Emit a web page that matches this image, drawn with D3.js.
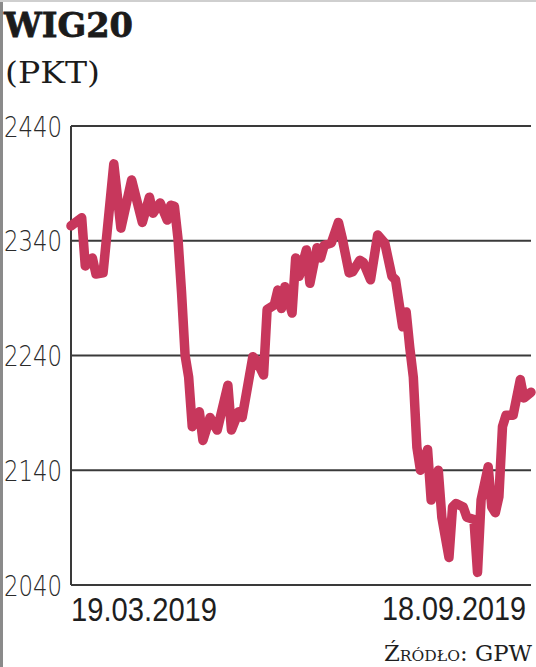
<!DOCTYPE html>
<html>
<head>
<meta charset="utf-8">
<script src="https://cdn.jsdelivr.net/npm/d3@7"></script>
<style>
  html, body { margin: 0; padding: 0; background: #fff; }
  svg { display: block; }
</style>
</head>
<body>
<script>
// ---- data ----
const title = "WIG20";
const unit = "(PKT)";
const source = "Źródło: GPW";
const startLabel = "19.03.2019";
const endLabel = "18.09.2019";
const yTicks = [2040, 2140, 2240, 2340, 2440];
const tradingDays = 129; // last trading-day index
// trading-day index of each point
const days = [0, 3, 4, 6, 7, 9, 12, 14, 17, 20, 22, 23, 25, 27, 28, 29, 30, 31, 32, 33,
  34, 36, 37, 39, 41, 44, 45, 47, 48, 51, 52, 54, 55, 57, 58, 59, 60, 62, 63, 64,
  66, 67, 69, 70, 71, 73, 75, 76, 78, 79, 81, 82, 84, 86, 88, 90, 91, 93, 94, 95,
  96, 97, 98, 100, 101, 103, 104, 106, 107, 108, 110, 111, 113, 114, 115, 117, 118, 119, 120, 121,
  122, 124, 126, 127, 129];
// WIG20 close values
const values = [2353, 2360, 2318, 2325, 2311, 2312, 2407, 2351, 2393, 2356, 2378, 2364, 2373, 2358, 2371, 2370, 2342, 2295, 2240, 2221,
  2178, 2191, 2166, 2186, 2175, 2214, 2175, 2191, 2186, 2239, 2236, 2223, 2280, 2284, 2297, 2281, 2300, 2277, 2325, 2309,
  2332, 2303, 2334, 2325, 2336, 2338, 2356, 2343, 2312, 2313, 2323, 2321, 2306, 2345, 2338, 2309, 2306, 2265, 2278, 2247,
  2221, 2160, 2140, 2158, 2114, 2140, 2099, 2064, 2108, 2111, 2108, 2099, 2097, 2051, 2114, 2143, 2108, 2103, 2117, 2178,
  2188, 2188, 2219, 2203, 2208];

const W = 536, H = 667;
const svg = d3.select("body").append("svg").attr("width", W).attr("height", H);

// frame edges
svg.append("line").attr("x1", 1.5).attr("x2", 1.5).attr("y1", 0).attr("y2", H)
  .attr("stroke", "#8a8a8a").attr("stroke-width", 3);
svg.append("line").attr("x1", 0).attr("x2", W).attr("y1", 1).attr("y2", 1)
  .attr("stroke", "#cfcfcf").attr("stroke-width", 2);

// titles
svg.append("text").attr("x", 4).attr("y", 37).text(title)
  .attr("font-family", "DejaVu Serif").attr("font-weight", "bold").attr("font-size", 34)
  .attr("fill", "#1b1b1b").attr("stroke", "#1b1b1b").attr("stroke-width", 0.8)
  .attr("textLength", 129).attr("lengthAdjust", "spacingAndGlyphs");
svg.append("text").attr("x", 5).attr("y", 83).text(unit)
  .attr("font-family", "DejaVu Serif").attr("font-size", 30)
  .attr("fill", "#1b1b1b").attr("textLength", 95).attr("lengthAdjust", "spacingAndGlyphs");

// scales
const x = d3.scaleLinear().domain([0, tradingDays]).range([71, 531]);
const y = d3.scaleLinear().domain([2040, 2440]).range([585, 126]);

// grid lines
svg.append("g").selectAll("line").data(yTicks).join("line")
  .attr("x1", 71).attr("x2", 531)
  .attr("y1", d => y(d)).attr("y2", d => y(d))
  .attr("stroke", "#3a3a3a").attr("stroke-width", 2);
// left axis line
svg.append("line").attr("x1", 71).attr("x2", 71).attr("y1", y(2440)).attr("y2", y(2040))
  .attr("stroke", "#3a3a3a").attr("stroke-width", 2);

// y tick labels
svg.append("g").selectAll("text").data(yTicks).join("text")
  .attr("x", 4).attr("y", d => y(d) + 10.5)
  .attr("font-family", "DejaVu Sans").attr("font-weight", 200).attr("font-size", 29)
  .attr("fill", "#2a2a2a").attr("textLength", 58).attr("lengthAdjust", "spacingAndGlyphs")
  .text(d => d);

// line
const pts = days.map((d, i) => [d, values[i]]);
svg.append("path").datum(pts)
  .attr("fill", "none").attr("stroke", "#c7375c").attr("stroke-width", 9.5)
  .attr("stroke-linejoin", "round").attr("stroke-linecap", "round")
  .attr("d", d3.line().x(d => x(d[0])).y(d => y(d[1])));

// x labels (narrow font, stretched vertically to look condensed)
svg.append("text").attr("transform", "translate(71,621) scale(1,1.16)").text(startLabel)
  .attr("font-family", "Liberation Sans").attr("font-size", 29.2)
  .attr("fill", "#1e1e1e");
svg.append("text").attr("transform", "translate(526,620) scale(1,1.16)").text(endLabel)
  .attr("text-anchor", "end")
  .attr("font-family", "Liberation Sans").attr("font-size", 28.8)
  .attr("fill", "#1e1e1e");

// source
svg.append("text").attr("x", 384).attr("y", 661).text(source)
  .attr("font-family", "DejaVu Serif").attr("font-size", 22)
  .style("font-variant", "small-caps")
  .attr("fill", "#1e1e1e").attr("textLength", 148).attr("lengthAdjust", "spacingAndGlyphs");
</script>
</body>
</html>
